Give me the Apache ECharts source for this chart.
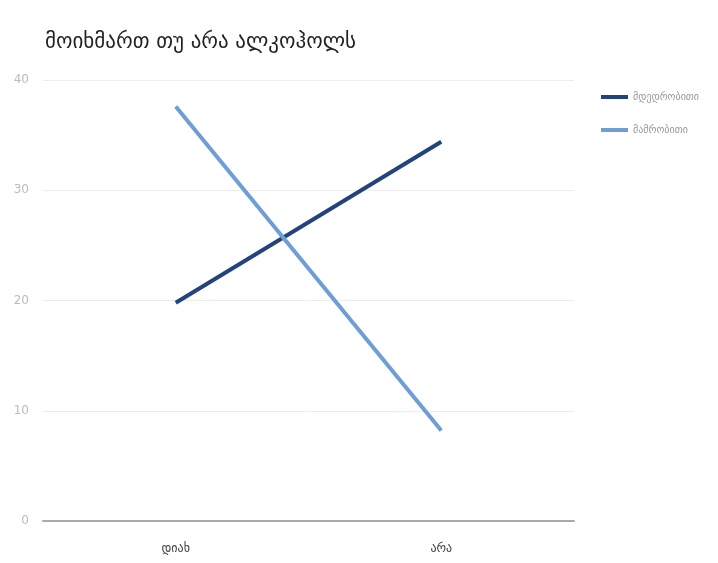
<!DOCTYPE html>
<html><head><meta charset="utf-8">
<script src="https://cdn.jsdelivr.net/npm/echarts@6/dist/echarts.min.js"></script>
<style>html,body{margin:0;padding:0;background:#fff}#c{width:718px;height:563px}</style>
</head><body><div id="c"></div>
<script>
const titleText = 'მოიხმართ თუ არა ალკოჰოლს';
const categories = ['დიახ', 'არა'];
const seriesNames = ['მდედრობითი', 'მამრობითი'];
const femaleValues = [19.8, 34.4];
const maleValues = [37.6, 8.2];
const yTicks = [0, 10, 20, 30, 40];

const chart = echarts.init(document.getElementById('c'));
chart.setOption({
  animation: false,
  backgroundColor: '#ffffff',
  title: {
    text: titleText, left: 40, top: 27,
    textStyle: { fontFamily: 'DejaVu Sans, serif', fontSize: 21, fontWeight: 'normal', color: '#222' }
  },
  legend: {
    orient: 'vertical', left: 596, top: 87, itemGap: 23,
    itemWidth: 27, itemHeight: 4, icon: 'rect',
    textStyle: { fontFamily: 'DejaVu Sans', fontSize: 10, color: '#999' },
    data: seriesNames
  },
  grid: { left: 43, right: 144, top: 80, bottom: 42, containLabel: false },
  xAxis: {
    type: 'category', data: categories, boundaryGap: true,
    axisLine: { lineStyle: { color: '#aaa', width: 2 } },
    axisTick: { show: false },
    axisLabel: { color: '#444', fontFamily: 'DejaVu Sans', fontSize: 12, margin: 22 }
  },
  yAxis: {
    type: 'value', min: yTicks[0], max: yTicks[yTicks.length - 1], interval: 10,
    axisLine: { show: false }, axisTick: { show: false },
    axisLabel: { color: '#bbb', fontFamily: 'DejaVu Sans', fontSize: 12, margin: 14 },
    splitLine: { lineStyle: { color: '#ececec', width: 1 } }
  },
  series: [
    { name: seriesNames[0], type: 'line', data: femaleValues, symbol: 'none',
      lineStyle: { color: '#22437c', width: 4 }, itemStyle: { color: '#22437c' } },
    { name: seriesNames[1], type: 'line', data: maleValues, symbol: 'none',
      lineStyle: { color: '#6f9dd6', width: 4 }, itemStyle: { color: '#6f9dd6' } }
  ]
});
</script></body></html>
